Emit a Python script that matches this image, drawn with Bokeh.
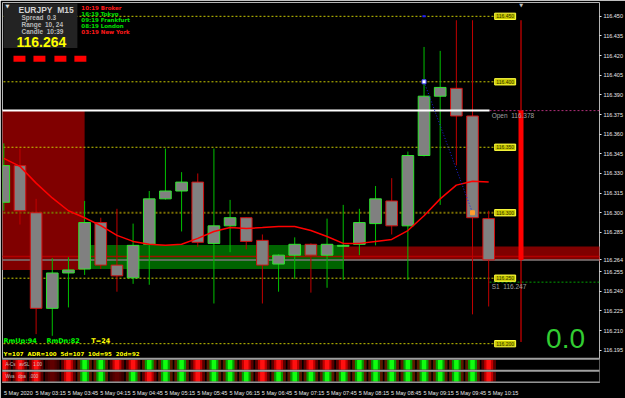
import numpy as np
from bokeh.plotting import figure
from bokeh.models import Range1d, FixedTicker, Label, ColumnDataSource, PrintfTickFormatter
from bokeh.embed import file_html
from bokeh.resources import INLINE

# ---------------- data ----------------
times = ["02:45", "03:00", "03:15", "03:30", "03:45", "04:00", "04:15", "04:30", "04:45", "05:00",
         "05:15", "05:30", "05:45", "06:00", "06:15", "06:30", "06:45", "07:00", "07:15", "07:30",
         "07:45", "08:00", "08:15", "08:30", "08:45", "09:00", "09:15", "09:30", "09:45", "10:00", "10:15"]
opens = [116.308, 116.336, 116.300, 116.227, 116.254, 116.257, 116.2925, 116.260, 116.2503, 116.2759,
         116.3106, 116.3166, 116.3234, 116.2766, 116.290, 116.2962, 116.2789, 116.2608, 116.2676, 116.2759,
         116.2676, 116.2744, 116.2759, 116.2917, 116.309, 116.290, 116.3437, 116.389, 116.395, 116.3739, 116.2955]
highs = [116.353, 116.349, 116.3106, 116.2653, 116.266, 116.309, 116.2962, 116.303, 116.2917, 116.3166,
         116.349, 116.331, 116.330, 116.349, 116.3098, 116.2965, 116.2834, 116.2683, 116.2812, 116.2766,
         116.2955, 116.306, 116.303, 116.3204, 116.3264, 116.3467, 116.4266, 116.4236, 116.447, 116.447, 116.3015]
lows = [116.3015, 116.291, 116.2073, 116.206, 116.2277, 116.2525, 116.257, 116.2397, 116.2457, 116.245,
        116.310, 116.2857, 116.274, 116.2307, 116.2699, 116.272, 116.2307, 116.2397, 116.2495, 116.239,
        116.2427, 116.2487, 116.2676, 116.2751, 116.2834, 116.2487, 116.343, 116.306, 116.3362, 116.2224, 116.2284]
closes = [116.336, 116.3015, 116.227, 116.254, 116.2563, 116.2925, 116.260, 116.2518, 116.2751, 116.3106,
          116.3166, 116.3234, 116.2774, 116.290, 116.2962, 116.2781, 116.260, 116.2676, 116.2759, 116.2676,
          116.2759, 116.2751, 116.2925, 116.3106, 116.290, 116.3437, 116.389, 116.3957, 116.3739, 116.2962, 116.264]
ma_values = [116.3415, 116.3354, 116.3226, 116.3113, 116.3015, 116.2962, 116.2902, 116.2827, 116.2781, 116.2759,
             116.2751, 116.2759, 116.2804, 116.2857, 116.2887, 116.2880, 116.2887, 116.2895, 116.2895, 116.2864,
             116.2819, 116.2766, 116.2766, 116.2781, 116.2796, 116.2864, 116.2977, 116.3106, 116.3211, 116.3241, 116.3234]

bid = 116.264
price_ticks = [round(116.450 - 0.015 * k, 3) for k in range(18) if k != 12] + [bid]
round_levels = [116.450, 116.400, 116.350, 116.300, 116.250, 116.200]
open_level = 116.378
s1_level = 116.247
red_level = 116.2666
# zones: (bar from, bar to, bottom price, top price)
red_zone = (-2, 5, 116.2563, 116.378)
green_zone = (5, 21, 116.257, 116.2753)
red_band = (21, 40, 116.2638, 116.2743)
trend = ((26, 116.400), (29, 116.300))
range_bar = 32
day_high, day_low = 116.447, 116.2013

# heat strips (subwindows): r = red, g = green, d = dark
strip_a = list("rrrdrggrrgggrggrrrrrrrggggggggrr")[:31]
strip_b = list("rrrdrggdgrggrgggrgggggggggggggrr")[:31]

sessions = [("10:19 Broker", "#ff1a1a"), ("16:19 Tokyo", "#00e000"), ("09:19 Frankfurt", "#00e000"),
            ("08:19 London", "#00e000"), ("03:19 New York", "#ff1a1a")]

NB = "\u00a0"

# ---------------- geometry helpers (screen px -> data) ----------------
BAR_PX, X0_PX = 16.19, 3.3
PRICE_PX, P_REF, P_REF_PX = 1326.7, 116.450, 16.0
FL, FR, FT, FB = 2, 600, 2, 387


def px_x(px):
    return (px - X0_PX) / BAR_PX


def px_y(py):
    return P_REF - (py - P_REF_PX) / PRICE_PX


n = len(times)
bars = list(range(n))

p = figure(width=625, height=398, x_range=Range1d(px_x(FL), px_x(FR)), y_range=Range1d(px_y(FB), px_y(FT)),
           output_backend="svg", toolbar_location=None, y_axis_location="right",
           min_border_left=FL, min_border_right=625 - FR, min_border_top=FT, min_border_bottom=398 - FB,
           background_fill_color="black", border_fill_color="black",
           outline_line_color="#b4b4b4", outline_line_width=1)
p.xgrid.visible = False
p.ygrid.visible = False
p.extra_y_ranges = {"sub": Range1d(0, (FB - FT) / 12.0)}

# axes
ya = p.yaxis[0]
ya.ticker = FixedTicker(ticks=price_ticks)
ya.formatter = PrintfTickFormatter(format="%.3f")
ya.major_label_text_font_size = "5.5px"
ya.major_label_text_font = "Liberation Sans"
ya.major_label_text_color = "#e8e8e8"
ya.major_tick_line_color = "#e8e8e8"
ya.major_tick_out = 2
ya.major_tick_in = 0
ya.minor_tick_line_color = None
ya.axis_line_color = None
ya.major_label_standoff = 2

xa = p.xaxis[0]
tick_pos = list(range(0, n, 2))
shift = 0.9
xa.ticker = FixedTicker(ticks=[t + shift for t in tick_pos])
xa.major_label_overrides = {t + shift: ("5 May 2020" if t == 0 else "5" + NB + "May" + NB + times[t])
                            for t in tick_pos}
xa.major_label_text_font_size = "5.5px"
xa.major_label_text_font = "Liberation Sans"
xa.major_label_text_color = "#e8e8e8"
xa.major_tick_line_color = None
xa.minor_tick_line_color = None
xa.axis_line_color = None
xa.major_label_standoff = 1

# zones
for (x0, x1, b, t), col in [(red_zone, "#800000"), (green_zone, "#006400"), (red_band, "#800000")]:
    p.quad(left=x0, right=x1, bottom=b, top=t, fill_color=col, line_color=None)

# round-number levels
lvl_end = px_x(495)
for lv in round_levels:
    dim = abs(lv - 116.300) < 1e-9
    p.segment(x0=-2, y0=lv, x1=lvl_end, y1=lv, line_color="#7a6e00" if dim else "#c8c800",
              line_width=2 if dim else 1, line_dash="2 2")

# horizontal lines
p.segment(x0=-2, y0=red_level, x1=40, y1=red_level, line_color="#c00000", line_width=1.5, line_alpha=0.8)
p.segment(x0=-2, y0=bid, x1=40, y1=bid, line_color="#7a7a7a", line_width=1.5)
p.segment(x0=30.05, y0=open_level, x1=40, y1=open_level, line_color="#b0307a", line_width=1, line_dash="2 2")
p.segment(x0=30.05, y0=s1_level, x1=40, y1=s1_level, line_color="#00a000", line_width=1, line_dash="2 2")

# candles
bull = [c >= o for o, c in zip(opens, closes)]
src = ColumnDataSource(dict(
    x=bars, h=highs, l=lows,
    top=[max(o, c) for o, c in zip(opens, closes)],
    bottom=[min(o, c) for o, c in zip(opens, closes)],
    wick=["#00c000" if b else "#c00000" for b in bull],
    edge=["#2ee62e" if b else "#d01010" for b in bull],
))
p.segment(x0="x", y0="h", x1="x", y1="l", line_color="wick", line_width=1, source=src)
p.vbar(x="x", width=0.72, top="top", bottom="bottom", fill_color="#808080", line_color="edge",
       line_width=1, source=src)

# moving average
p.line(bars, ma_values, line_color="#ff0000", line_width=1.5)

# open line (white)
p.segment(x0=-2, y0=open_level, x1=30.05, y1=open_level, line_color="white", line_width=2)

# trend line
(tx0, ty0), (tx1, ty1) = trend
p.segment(x0=tx0, y0=ty0, x1=tx1, y1=ty1, line_color="#2020e0", line_width=1, line_dash="1 2")
p.scatter([tx0], [ty0], size=4, marker="square", fill_color="white", line_color="#4040ff")
p.scatter([tx1], [ty1], size=4, marker="square", fill_color="#ffa030", line_color="#ffa030")
p.segment(x0=tx0 - 0.1, y0=116.450, x1=tx0 + 0.1, y1=116.450, line_color="#2020ff", line_width=2)

# day range bar
p.segment(x0=range_bar, y0=day_high, x1=range_bar, y1=day_low, line_color="#ff0000", line_width=1)
p.segment(x0=range_bar, y0=open_level, x1=range_bar, y1=bid, line_color="#ff0000", line_width=5)

# level labels (yellow boxes)
bx0, bx1 = px_x(495), px_x(516)
for lv in round_levels:
    p.quad(left=bx0, right=bx1, bottom=lv - 3.2 / PRICE_PX, top=lv + 3.2 / PRICE_PX,
           fill_color="#c8c800", line_color="#ffff40", line_width=1)
    p.add_layout(Label(x=(bx0 + bx1) / 2, y=lv, text="%.3f" % lv, text_font_size="5px",
                       text_font="Liberation Sans", text_color="#303000", text_align="center",
                       text_baseline="middle"))

# subwindows
p.quad(left=-2, right=40, bottom=0, top=2, fill_color="black", line_color=None, y_range_name="sub")
outer = {"r": "#5a0000", "g": "#5a1a00", "d": "#3a0000"}
mid = {"r": "#c00000", "g": "#00a000", "d": "#500000"}
core = {"r": "#ff1010", "g": "#10ff10", "d": "#600000"}
for row_y, strip in [(1.5, strip_a), (0.5, strip_b)]:
    p.rect(x=bars, y=row_y, width=0.9, height=0.82, fill_color=[outer[s] for s in strip], line_color=None,
           y_range_name="sub")
    p.rect(x=bars, y=row_y, width=0.55, height=0.82, fill_color=[mid[s] for s in strip], line_color=None,
           y_range_name="sub")
    p.rect(x=bars, y=row_y, width=0.28, height=0.82, fill_color=[core[s] for s in strip], line_color=None,
           y_range_name="sub")
for yy in [0, 1, 2]:
    p.segment(x0=-2, y0=yy, x1=40, y1=yy, line_color="#a0a0a0", line_width=2, y_range_name="sub")
p.add_layout(Label(x=px_x(5), y=1.5, y_range_name="sub", text=("A-Cs" + NB * 3 + "avSL" + NB * 3 + "1.00"),
                   text_font_size="4.5px", text_color="#c0c0c0", text_baseline="middle",
                   text_font="Liberation Sans"))
p.add_layout(Label(x=px_x(5), y=0.5, y_range_name="sub", text=("Wva" + NB * 3 + "dpa" + NB * 3 + ".000"),
                   text_font_size="4.5px", text_color="#c0c0c0", text_baseline="middle",
                   text_font="Liberation Sans"))


def txt(px, py, s, size, color, bold=True, align="left", font="DejaVu Sans"):
    p.add_layout(Label(x=px_x(px), y=px_y(py), text=s.replace(" ", NB), text_font_size=size, text_color=color,
                       text_font_style="bold" if bold else "normal", text_align=align,
                       text_baseline="middle", text_font=font))


# info panel
p.quad(left=px_x(3), right=px_x(77), top=px_y(3), bottom=px_y(48), fill_color="#232323", line_color=None)
txt(5, 6, "▼", "5px", "#e0e0e0", bold=False)
txt(18, 9.5, "EURJPY  M15", "8.5px", "#d0d0d0", font="Liberation Sans")
txt(21, 17.5, "Spread  0.3", "6.5px", "#b8b8b8", font="Liberation Sans")
txt(21, 24.5, "Range  10, 24", "6.5px", "#b8b8b8", font="Liberation Sans")
txt(21, 31.5, "Candle  10:39", "6.5px", "#b8b8b8", font="Liberation Sans")
txt(16, 42, "116.264", "14px", "#ffff00", font="Liberation Sans")

for k, (s, col) in enumerate(sessions):
    txt(81, 8 + 6 * k, s, "5.5px", col)

for cx in [13, 33, 54, 74]:
    p.quad(left=px_x(cx), right=px_x(cx + 12), top=px_y(56), bottom=px_y(62), fill_color="#ff0000",
           line_color=None)

txt(3, 345, "RmUp:94", "6.5px", "#00ff00")
txt(46, 345, "RmDn:82", "6.5px", "#00ff00")
txt(91, 345, "T=24", "6.5px", "#ffff00")
txt(3, 358, "Y=107  ADR=100  5d=107  10d=95  20d=92", "5.5px", "#ffff00")

txt(492, 116, "Open  116.378", "6.5px", "#a0a0a0", bold=False, font="Liberation Sans")
txt(492, 290, "S1  116.247", "6.5px", "#a0a0a0", bold=False, font="Liberation Sans")
txt(566, 342, "0.0", "28px", "#32cd32", bold=False, align="center", font="Liberation Sans")
txt(521.5, 4.5, "▼", "5px", "#c0c0c0", bold=False, align="center")

# bid price label on the axis
p.add_layout(Label(x=px_x(601), y=bid, text="116.264", text_font_size="5.5px", text_color="black",
                   text_font="Liberation Sans", background_fill_color="white", border_line_color="#ff0000",
                   border_line_width=2, text_baseline="middle", text_align="left", level="overlay"))

open("out.html", "w").write(file_html(p, INLINE))
